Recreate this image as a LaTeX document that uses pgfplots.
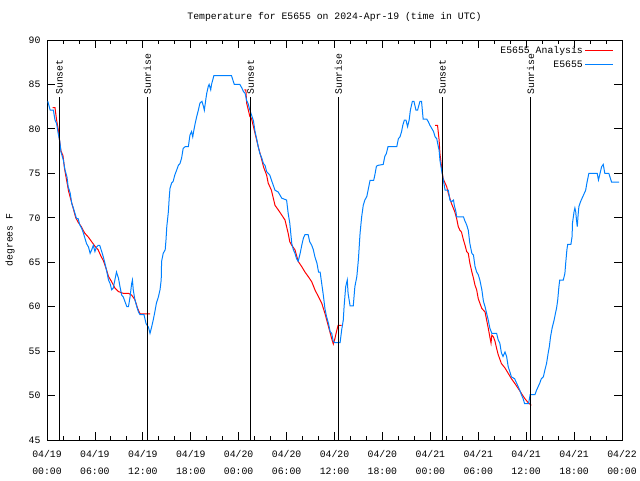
\documentclass[border=0pt]{standalone}
\usepackage{pgfplots}
\pgfplotsset{compat=1.18}
\usepackage{fontspec}
\setmainfont{Liberation Mono}
\definecolor{gblue}{RGB}{0,128,255}
\definecolor{gred}{RGB}{255,0,0}
\newcommand{\gfont}{\fontsize{9.8}{12}\selectfont}
\begin{document}
\begin{tikzpicture}
\begin{axis}[
  scale only axis, width=575pt, height=400pt,
  xmin=0, xmax=72, ymin=45, ymax=90,
  xtick={0,6,...,72},
  xticklabels={{04/19\\00:00},{04/19\\06:00},{04/19\\12:00},{04/19\\18:00},{04/20\\00:00},{04/20\\06:00},{04/20\\12:00},{04/20\\18:00},{04/21\\00:00},{04/21\\06:00},{04/21\\12:00},{04/21\\18:00},{04/22\\00:00}},
  minor x tick num=2,
  ytick={45,50,...,90},
  tick align=inside,
  major tick length=8pt, minor tick length=4pt,
  tick style={black, line width=0.8pt},
  axis line style={line width=1pt},
  /pgf/number format/assume math mode=true,
  xticklabel style={align=center, font=\fontsize{9.8}{17}\selectfont, yshift=-7pt},
  yticklabel style={font=\gfont, xshift=-3pt},
  title={Temperature for E5655 on 2024-Apr-19 (time in UTC)},
  title style={font=\gfont, at={(0.5,1)}, anchor=south, yshift=9pt},
  ylabel={degrees F},
  ylabel style={font=\gfont, at={(rel axis cs:0,0.5)}, anchor=center, yshift=37pt},
  legend style={at={(rel axis cs:1,1)}, anchor=north east, draw=none, fill=none,
    xshift=-8pt, yshift=-3pt, font=\fontsize{9.8}{13}\selectfont, inner sep=0pt,
    nodes={text height=8pt, text depth=2.5pt}},
  legend cell align=right,
  legend plot pos=right,
  legend image code/.code={\draw[#1, line width=1pt] (5pt,0pt) -- (33pt,0pt);},
  unbounded coords=jump,
]
\coordinate (ll) at (rel axis cs:0,0);
\coordinate (ur) at (rel axis cs:1,1);
\addplot[gred, line width=1pt] table[row sep=\\] {
x y\\
0.7 82.4\\ 1.0 82.4\\ 1.2 81.0\\ 1.4 80.0\\ 1.6 78.5\\ 1.75 77.5\\ 2.0 77.0\\ 2.2 75.5\\ 2.5 74.0\\ 2.7 73.0\\
3.0 72.0\\ 3.3 71.0\\ 3.6 70.0\\ 3.9 69.5\\ 4.3 69.0\\ 4.7 68.3\\ 5.2 67.8\\ 5.6 67.3\\ 6.0 66.8\\ 6.4 66.4\\
6.8 65.6\\ 7.05 65.2\\ 7.4 64.3\\ 7.7 63.4\\ 8.1 62.8\\ 8.5 62.1\\ 8.95 61.7\\ 9.55 61.5\\ 10.2 61.5\\ 10.6 61.3\\
11.0 60.8\\ 11.35 59.8\\ 11.65 59.2\\ 12.9 59.2\\
12.95 nan\\
24.7 84.4\\ 24.9 84.4\\ 25.0 82.9\\ 25.4 81.4\\ 25.6 81.2\\ 26.05 79.5\\ 26.45 78.0\\ 26.9 76.5\\ 27.1 75.75\\ 27.5 74.8\\
27.7 73.9\\ 28.1 73.1\\ 28.55 71.4\\ 28.95 70.9\\ 29.4 70.3\\ 29.8 69.75\\ 30.0 69.0\\ 30.2 68.25\\ 30.4 67.3\\ 30.65 66.9\\
31.05 66.4\\ 31.45 65.1\\ 31.9 64.5\\ 32.3 63.9\\ 32.7 63.4\\ 33.15 62.8\\ 33.55 61.9\\ 34.0 61.1\\ 34.4 60.4\\ 34.8 59.25\\
35.25 57.75\\ 35.65 56.4\\ 35.85 55.8\\ 36.05 56.4\\ 36.25 57.2\\ 36.45 57.9\\ 36.9 57.9\\
37.0 nan\\
48.6 80.4\\ 48.9 80.4\\ 49.1 78.75\\ 49.2 77.25\\ 49.4 75.75\\ 49.6 74.4\\ 50.05 73.5\\ 50.25 72.75\\ 50.65 71.6\\ 51.05 70.7\\
51.3 69.9\\ 51.5 69.0\\ 51.7 68.6\\ 51.9 68.4\\ 52.15 67.5\\ 52.35 66.9\\ 52.55 66.2\\ 52.75 66.0\\ 52.95 64.9\\ 53.2 63.9\\
53.4 63.2\\ 53.6 62.4\\ 53.8 61.9\\ 54.0 60.9\\ 54.2 60.4\\ 54.45 59.8\\ 54.65 59.6\\ 54.85 59.4\\ 55.05 58.5\\ 55.25 57.6\\
55.45 56.6\\ 55.6 55.9\\ 55.7 56.8\\ 55.9 56.6\\ 56.1 56.1\\ 56.3 55.3\\ 56.5 54.6\\ 56.9 53.6\\ 57.35 53.1\\ 57.75 52.5\\
58.15 51.9\\ 58.55 51.4\\ 59.0 50.8\\ 59.4 50.25\\ 59.8 49.7\\ 60.25 49.2\\ 60.65 48.9\\
};
\addlegendentry{E5655 Analysis}
\addplot[gblue, line width=1pt] table[row sep=\\] {
x y\\
0.1 83.1\\ 0.4 82.1\\ 0.8 82.1\\ 1.0 81.0\\ 1.2 80.6\\ 1.4 79.5\\ 1.6 78.6\\ 1.75 77.4\\ 2.05 76.5\\ 2.25 75.4\\
2.5 74.6\\ 2.65 73.5\\ 2.9 72.8\\ 3.1 71.6\\ 3.3 71.1\\ 3.5 70.5\\ 3.7 69.9\\ 3.9 69.9\\ 4.1 69.2\\ 4.35 68.8\\
4.55 68.3\\ 4.75 67.7\\ 4.95 67.1\\ 5.2 66.7\\ 5.4 66.0\\ 5.6 66.4\\ 5.8 66.9\\ 6.0 66.2\\ 6.2 66.7\\ 6.4 66.9\\
6.6 66.9\\ 6.85 66.2\\ 7.05 65.6\\ 7.25 64.9\\ 7.5 63.9\\ 7.7 63.0\\ 7.9 62.6\\ 8.1 61.9\\ 8.3 62.1\\ 8.5 63.0\\
8.7 63.9\\ 8.95 63.2\\ 9.15 62.2\\ 9.35 61.3\\ 9.55 61.1\\ 9.75 60.6\\ 10.0 60.0\\ 10.2 60.0\\ 10.4 61.1\\ 10.6 62.6\\
10.7 63.0\\ 10.8 61.9\\ 11.0 60.8\\ 11.25 60.0\\ 11.45 59.4\\ 11.65 59.1\\ 12.15 59.1\\ 12.4 58.1\\ 12.7 57.7\\ 12.9 57.0\\
13.1 57.7\\ 13.3 58.5\\ 13.5 59.4\\ 13.7 60.4\\ 13.95 61.1\\ 14.15 61.9\\ 14.3 63.0\\ 14.35 65.1\\ 14.55 66.0\\ 14.8 66.4\\
14.9 67.5\\ 15.0 69.0\\ 15.2 70.7\\ 15.3 72.2\\ 15.4 73.3\\ 15.6 73.9\\ 15.8 74.1\\ 16.0 74.8\\ 16.25 75.4\\ 16.45 75.9\\
16.65 76.1\\ 16.85 76.7\\ 17.05 77.8\\ 17.3 78.0\\ 17.7 78.0\\ 17.9 79.3\\ 18.1 79.7\\ 18.25 79.1\\ 18.4 79.9\\ 18.55 80.6\\
18.75 81.4\\ 18.95 82.1\\ 19.15 82.9\\ 19.4 83.1\\ 19.6 82.5\\ 19.7 82.1\\ 19.9 83.4\\ 20.0 84.0\\ 20.2 84.8\\ 20.3 85.0\\
20.5 84.4\\ 20.6 85.0\\ 20.9 86.0\\ 23.1 86.0\\ 23.45 85.0\\ 24.15 85.0\\ 24.4 84.6\\ 24.6 84.2\\ 24.8 84.0\\ 25.0 83.2\\
25.2 82.8\\ 25.4 82.1\\ 25.6 81.6\\ 25.85 80.9\\ 26.05 79.7\\ 26.25 78.9\\ 26.45 78.0\\ 26.65 77.25\\ 26.9 76.7\\ 27.1 76.1\\
27.3 75.9\\ 27.5 75.2\\ 27.9 74.8\\ 28.1 74.25\\ 28.55 73.1\\ 28.95 72.9\\ 29.4 72.2\\ 30.0 72.0\\ 30.2 70.5\\ 30.4 69.4\\
30.65 67.1\\ 30.85 66.4\\ 31.05 66.0\\ 31.25 65.4\\ 31.45 65.1\\ 31.7 66.0\\ 31.9 66.9\\ 32.1 67.7\\ 32.3 68.1\\ 32.7 68.1\\
32.9 67.3\\ 33.15 66.9\\ 33.35 66.4\\ 33.55 65.6\\ 33.8 64.9\\ 34.0 63.9\\ 34.2 63.9\\ 34.4 62.6\\ 34.6 61.3\\ 34.8 59.8\\
35.0 58.9\\ 35.25 58.1\\ 35.45 57.2\\ 35.65 57.0\\ 35.85 56.1\\ 36.05 55.95\\ 36.7 55.95\\ 36.9 57.4\\ 37.1 58.5\\ 37.2 60.0\\
37.4 62.25\\ 37.6 63.0\\ 37.7 61.5\\ 37.95 60.1\\ 38.35 60.1\\ 38.55 62.25\\ 38.8 63.4\\ 39.0 65.4\\ 39.2 68.25\\ 39.4 70.1\\
39.6 71.4\\ 39.8 72.0\\ 40.05 72.4\\ 40.25 73.3\\ 40.45 74.2\\ 40.9 74.2\\ 41.05 74.8\\ 41.25 75.8\\ 41.45 75.9\\ 42.1 76.0\\
42.3 76.9\\ 42.5 77.25\\ 42.7 78.0\\ 43.8 78.0\\ 44.0 78.9\\ 44.2 79.1\\ 44.4 79.7\\ 44.55 80.4\\ 44.75 81.0\\ 44.95 81.0\\
45.15 80.25\\ 45.35 81.0\\ 45.5 82.1\\ 45.75 83.1\\ 45.95 83.1\\ 46.2 82.1\\ 46.4 82.1\\ 46.7 83.1\\ 46.9 83.1\\ 47.1 81.1\\
47.55 81.1\\ 47.75 80.8\\ 47.95 80.4\\ 48.15 80.1\\ 48.4 79.7\\ 48.6 79.1\\ 48.8 78.9\\ 49.0 78.0\\ 49.1 77.6\\ 49.2 76.5\\
49.4 75.4\\ 49.6 74.4\\ 49.85 73.1\\ 50.25 73.1\\ 50.45 72.0\\ 50.65 71.8\\ 50.9 72.0\\ 51.0 71.4\\ 51.2 70.7\\ 51.3 70.1\\
52.15 70.1\\ 52.35 69.6\\ 52.55 69.2\\ 52.75 68.6\\ 52.95 67.1\\ 53.2 66.0\\ 53.4 65.8\\ 53.6 64.5\\ 53.8 63.9\\ 54.0 63.6\\
54.2 63.0\\ 54.45 61.9\\ 54.65 60.6\\ 54.85 60.0\\ 55.05 59.25\\ 55.25 58.5\\ 55.45 57.6\\ 55.7 57.0\\ 56.3 57.0\\ 56.5 56.25\\
56.7 55.9\\ 56.9 54.8\\ 57.1 54.4\\ 57.35 54.9\\ 57.55 54.4\\ 57.75 53.25\\ 57.95 52.7\\ 58.15 52.1\\ 58.55 51.9\\ 58.8 51.4\\
59.0 51.0\\ 59.2 50.6\\ 59.4 50.1\\ 59.6 49.7\\ 59.8 49.1\\ 60.3 49.1\\ 60.5 50.1\\ 61.1 50.1\\ 61.3 50.6\\ 61.5 51.0\\
61.7 51.4\\ 61.9 51.9\\ 62.15 52.1\\ 62.35 52.9\\ 62.55 53.6\\ 62.75 54.75\\ 62.9 55.5\\ 63.05 56.6\\ 63.25 57.6\\ 63.5 58.5\\
63.7 59.4\\ 63.8 59.8\\ 63.95 60.75\\ 64.1 62.25\\ 64.2 63.0\\ 64.65 63.0\\ 64.85 63.75\\ 64.95 64.9\\ 65.1 66.4\\ 65.2 67.0\\
65.6 67.0\\ 65.75 67.9\\ 65.8 69.4\\ 66.0 70.7\\ 66.1 71.1\\ 66.2 70.7\\ 66.3 69.75\\ 66.4 69.0\\ 66.5 70.3\\ 66.6 71.25\\
66.8 71.8\\ 67.0 72.2\\ 67.2 72.6\\ 67.45 73.1\\ 67.6 73.9\\ 67.85 75.0\\ 68.9 75.0\\ 69.05 74.25\\ 69.25 75.0\\ 69.45 75.75\\
69.65 76.0\\ 69.85 75.0\\ 70.35 75.0\\ 70.7 74.0\\ 71.65 74.0\\
};
\addlegendentry{E5655}
\addplot[black, line width=1pt, forget plot] coordinates {(1.55,45) (1.55,83.6)};
\addplot[black, line width=1pt, forget plot] coordinates {(12.56,45) (12.56,83.6)};
\addplot[black, line width=1pt, forget plot] coordinates {(25.5,45) (25.5,83.6)};
\addplot[black, line width=1pt, forget plot] coordinates {(36.48,45) (36.48,83.6)};
\addplot[black, line width=1pt, forget plot] coordinates {(49.5,45) (49.5,83.6)};
\addplot[black, line width=1pt, forget plot] coordinates {(60.57,45) (60.57,83.6)};
\node[rotate=90, anchor=west, font=\gfont, inner sep=2pt] at (axis cs:1.55,83.6) {Sunset};
\node[rotate=90, anchor=west, font=\gfont, inner sep=2pt] at (axis cs:12.56,83.6) {Sunrise};
\node[rotate=90, anchor=west, font=\gfont, inner sep=2pt] at (axis cs:25.5,83.6) {Sunset};
\node[rotate=90, anchor=west, font=\gfont, inner sep=2pt] at (axis cs:36.48,83.6) {Sunrise};
\node[rotate=90, anchor=west, font=\gfont, inner sep=2pt] at (axis cs:49.5,83.6) {Sunset};
\node[rotate=90, anchor=west, font=\gfont, inner sep=2pt] at (axis cs:60.57,83.6) {Sunrise};
\end{axis}
\pgfresetboundingbox
\path[use as bounding box] ([xshift=-47pt,yshift=-40pt]ll) rectangle ([xshift=18pt,yshift=40pt]ur);
\end{tikzpicture}
\end{document}
